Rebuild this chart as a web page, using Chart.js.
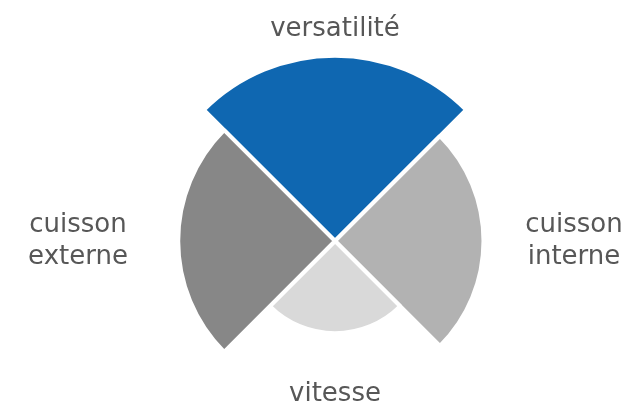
<!DOCTYPE html>
<html>
<head>
<meta charset="utf-8">
<script src="https://cdn.jsdelivr.net/npm/chart.js@4/dist/chart.umd.min.js"></script>
<style>
  html, body { margin: 0; padding: 0; background: #fff; }
  #wrap { width: 630px; height: 407px; }
</style>
</head>
<body>
<div id="wrap"><canvas id="chart"></canvas></div>
<script>
// Catégories (sens horaire, en partant du haut)
const categories = [["versatilité"], ["cuisson", "interne"], ["vitesse"], ["cuisson", "externe"]];
const scores = [10.05, 8.05, 5, 8.5];
const colors = ["#0f67b1", "#b2b2b2", "#d9d9d9", "#878787"];

// Distance des étiquettes depuis le centre
const labelDistances = [212, 239, 153, 257];

// Étiquettes dessinées autour du graphique
const labelPlugin = {
  id: "sectorLabels",
  afterDraw(chart) {
    const scale = chart.scales.r;
    const ctx = chart.ctx;
    const lineHeight = 32;
    ctx.save();
    ctx.font = "26px 'DejaVu Sans'";
    ctx.fillStyle = "#575757";
    ctx.textAlign = "center";
    ctx.textBaseline = "middle";
    categories.forEach((lines, i) => {
      const p = scale.getPointPosition(i, labelDistances[i], Math.PI / categories.length);
      const y0 = p.y - ((lines.length - 1) * lineHeight) / 2;
      lines.forEach((line, j) => ctx.fillText(line, p.x, y0 + j * lineHeight));
    });
    ctx.restore();
  },
};

const ctx = document.getElementById("chart").getContext("2d");
new Chart(ctx, {
  type: "polarArea",
  data: {
    labels: categories.map((l) => l.join(" ")),
    datasets: [
      {
        data: scores,
        backgroundColor: colors,
        borderColor: "#ffffff",
        borderWidth: 4,
        clip: false,
      },
    ],
  },
  options: {
    responsive: true,
    maintainAspectRatio: false,
    animation: false,
    layout: { padding: { top: 75, bottom: 0, left: 40, right: 0 } },
    plugins: {
      legend: { display: false },
      tooltip: { enabled: false },
    },
    scales: {
      r: {
        startAngle: -45,
        min: 0,
        max: 9,
        ticks: { display: false },
        grid: { display: false },
        angleLines: { display: false },
        pointLabels: { display: false },
      },
    },
  },
  plugins: [labelPlugin],
});
</script>
</body>
</html>
